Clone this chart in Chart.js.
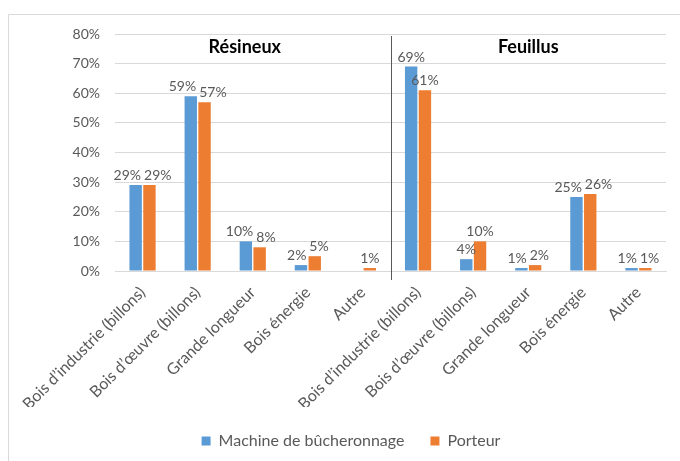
<!DOCTYPE html>
<html lang="fr">
<head>
<meta charset="utf-8">
<title>Répartition par produit</title>
<script src="https://cdn.jsdelivr.net/npm/chart.js@4.4.1/dist/chart.umd.min.js"></script>
<style>
  html, body { margin: 0; padding: 0; background: #fff; }
  #wrap { width: 680px; height: 461px; }
</style>
</head>
<body>
<div id="wrap"><canvas id="chart" width="680" height="461"></canvas></div>
<script>
// Data
const categories = [
    "Bois d’industrie (billons)", "Bois d’œuvre (billons)", "Grande longueur", "Bois énergie", "Autre",
    "Bois d’industrie (billons)", "Bois d’œuvre (billons)", "Grande longueur", "Bois énergie", "Autre"
];
const machineValues = [29, 59, 10, 2, null, 69, 4, 1, 25, 1];
const porteurValues = [29, 57, 8, 5, 1, 61, 10, 2, 26, 1];
const seriesNames = ["Machine de bûcheronnage", "Porteur"];
const yTicks = [0, 10, 20, 30, 40, 50, 60, 70, 80];
const groupTitles = ["Résineux", "Feuillus"];
const groupTitleIndex = [2, 7];   // category under each title
const separatorAfter = 4;         // line between Résineux and Feuillus

const FONT = "Lato, 'Open Sans', sans-serif";
const GREY = "#595959";
const LEGEND_PAD = 26;

// frame, separator, group titles and bar value labels
const decorPlugin = {
    id: "decor",
    afterLayout(chart) {
        // legend is centred on the frame, not on the canvas
        chart.legend.left += 18;
        chart.legend.right += 18;
    },
    beforeDraw(chart) {
        const ctx = chart.ctx;
        ctx.save();
        ctx.strokeStyle = "#d9d9d9";
        ctx.lineWidth = 1;
        ctx.beginPath();
        ctx.moveTo(8.5, chart.height);
        ctx.lineTo(8.5, 14.5);
        ctx.lineTo(chart.width, 14.5);
        ctx.stroke();
        ctx.restore();
    },
    afterDatasetsDraw(chart) {
        const ctx = chart.ctx;
        const x = chart.scales.x, y = chart.scales.y;
        ctx.save();

        // separator line
        const sx = Math.round(x.getPixelForValue(separatorAfter + 0.5)) + 0.5;
        ctx.strokeStyle = "#595959";
        ctx.lineWidth = 1;
        ctx.beginPath();
        ctx.moveTo(sx, chart.chartArea.top + 2);
        ctx.lineTo(sx, chart.chartArea.bottom + 9);
        ctx.stroke();

        // group titles
        ctx.fillStyle = "#000";
        ctx.font = "bold 18px " + FONT;
        ctx.textAlign = "center";
        ctx.textBaseline = "middle";
        groupTitles.forEach((t, i) => {
            ctx.fillText(t, x.getPixelForValue(groupTitleIndex[i]) - (i === 0 ? 8 : 0), y.getPixelForValue(75.5));
        });

        // value labels, pushed apart when the pair collides
        ctx.font = "14px " + FONT;
        ctx.fillStyle = GREY;
        ctx.textBaseline = "alphabetic";
        const m0 = chart.getDatasetMeta(0), m1 = chart.getDatasetMeta(1);
        const d0 = chart.data.datasets[0].data, d1 = chart.data.datasets[1].data;
        for (let i = 0; i < categories.length; i++) {
            const items = [];
            if (d0[i] != null) items.push({ el: m0.data[i], t: d0[i] + "%" });
            if (d1[i] != null) items.push({ el: m1.data[i], t: d1[i] + "%" });
            items.forEach(it => {
                it.w = ctx.measureText(it.t).width;
                it.cx = it.el.x;
                it.by = it.el.y - 5;
            });
            if (items.length === 2) {
                const a = items[0], b = items[1];
                const overlapY = Math.abs(a.by - b.by) < 13;
                const overlapX = (a.cx + a.w / 2 + 3) - (b.cx - b.w / 2);
                if (overlapY && overlapX > 0) {
                    a.cx -= overlapX / 2;
                    b.cx += overlapX / 2;
                }
            }
            items.forEach(it => ctx.fillText(it.t, it.cx, it.by));
        }
        ctx.restore();
    }
};

const ctx = document.getElementById("chart").getContext("2d");
new Chart(ctx, {
    type: "bar",
    data: {
        labels: categories,
        datasets: [
            { label: seriesNames[0], data: machineValues, backgroundColor: "#5B9BD5" },
            { label: seriesNames[1], data: porteurValues, backgroundColor: "#ED7D31" }
        ]
    },
    options: {
        responsive: false,
        animation: false,
        categoryPercentage: 0.5,
        barPercentage: 0.9,
        layout: { padding: { top: 34, right: 14, bottom: 2, left: 0 } },
        plugins: {
            legend: {
                position: "bottom",
                labels: {
                    boxWidth: 9,
                    boxHeight: 9,
                    padding: LEGEND_PAD,
                    color: GREY,
                    font: { family: FONT, size: 16 }
                }
            },
            tooltip: { enabled: false }
        },
        scales: {
            x: {
                grid: { display: false, drawTicks: false },
                border: { color: "#d9d9d9" },
                ticks: {
                    autoSkip: false,
                    minRotation: 45,
                    maxRotation: 45,
                    padding: 12,
                    color: GREY,
                    font: { family: FONT, size: 16 }
                },
                afterFit: (scale) => { scale.height = 162 - LEGEND_PAD; }
            },
            y: {
                min: 0,
                max: 80,
                afterBuildTicks: (scale) => { scale.ticks = yTicks.map(v => ({ value: v })); },
                grid: { color: "#d9d9d9", drawTicks: false },
                border: { display: false },
                ticks: {
                    padding: 15,
                    color: GREY,
                    font: { family: FONT, size: 14 },
                    callback: (v) => v + "%"
                },
                afterFit: (scale) => { scale.width = 115; }
            }
        }
    },
    plugins: [decorPlugin]
});
</script>
</body>
</html>
